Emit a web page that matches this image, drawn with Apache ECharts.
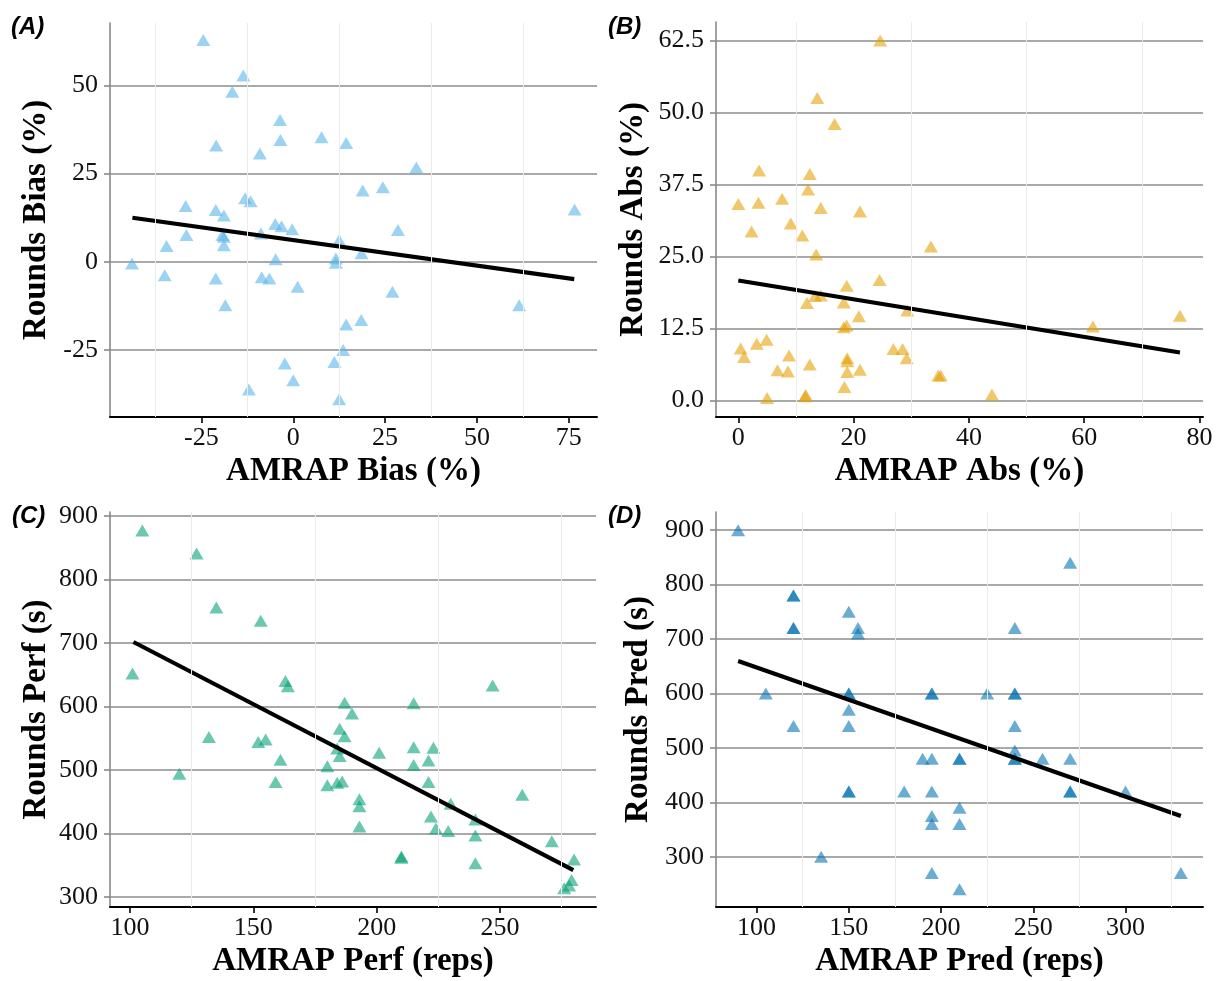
<!DOCTYPE html>
<html><head><meta charset="utf-8">
<script src="https://cdn.jsdelivr.net/npm/echarts@6/dist/echarts.min.js"></script>
<style>html,body{margin:0;padding:0;background:#fff}#c{width:1223px;height:981px}</style>
</head><body><div id="c"></div>
<script>
// ---------- Panel A: AMRAP Bias vs Rounds Bias ----------
const aX = [-24.5,-13.6,-16.6,-3.6,-21,-3.5,-9.1,7.7,14.4,33.5,18.9,24.4,-29.3,-21.1,-18.9,-13.1,-11.6,76.6,-29.1,-34.5,-18.9,-18.9,-19.3,-8.8,-4.9,-3.2,-0.3,12.5,28.5,-43.9,-35,-21.1,-8.6,-6.5,-4.8,1.2,11.6,11.6,18.6,27,-18.5,61.5,14.4,18.5,13.6,11.2,-2.3,0,-12.1,12.5];
const aY = [62.9,52.8,48.2,40.2,33,34.5,30.7,35.3,33.7,26.7,20.2,21.1,15.8,14.7,13.1,18,17.2,14.8,7.6,4.5,7.1,4.7,7.6,8,10.7,10.1,9.2,6.1,9,-0.5,-3.8,-4.7,-4.4,-4.7,0.7,-7.1,0.9,-0.3,2.4,-8.5,-12.3,-12.3,-17.8,-16.5,-25,-28.4,-28.8,-33.6,-36.2,-39];
const aFitX = [-43.8, 76.5];
const aFitY = [12.5, -4.9];
const aXTicks = [-25, 0, 25, 50, 75];
const aXMinor = [-37.5, -12.5, 12.5, 37.5, 62.5];
const aYTicks = [-25, 0, 25, 50];

// ---------- Panel B: AMRAP Abs vs Rounds Abs ----------
const bX = [24.6,13.7,16.7,3.6,12.4,12.1,0,3.5,7.6,14.3,21.1,9.1,2.3,11.1,13.5,33.4,24.5,18.8,11.9,13.3,14.3,18.3,29.3,20.9,76.6,61.5,18.3,18.8,0.4,3.2,4.9,1,8.8,12.4,6.8,8.6,26.9,28.5,29.2,18.9,18.9,18.9,21.1,18.4,34.7,35.1,11.7,11.6,5,44];
const bY = [62.5,52.5,48,39.9,39.3,36.6,34.1,34.3,35,33.4,32.8,30.7,29.3,28.6,25.3,26.7,20.9,19.9,16.9,18.1,18.2,17,15.6,14.6,14.7,12.8,12.7,13,9,9.8,10.5,7.5,7.8,6.2,5.2,5,8.9,8.9,7.3,7.3,6.8,4.9,5.3,2.3,4.3,4.3,0.9,0.7,0.4,1];
const bFitX = [0, 76.6];
const bFitY = [20.8, 8.3];
const bXTicks = [0, 20, 40, 60, 80];
const bXMinor = [10, 30, 50, 70];
const bYTicks = [0, 12.5, 25, 37.5, 50, 62.5];
const bYLabels = ['0.0', '12.5', '25.0', '37.5', '50.0', '62.5'];

// ---------- Panel C: AMRAP Perf vs Rounds Perf ----------
const cX = [105,127,135,153,101,247,163,164,187,215,190,132,152,155,185,187,184,185,161,201,215,223,221,215,180,120,159,180,184,186,221,193,193,259,230,222,224,229,193,240,240,271,210,210,240,280,279,278,276];
const cY = [877,841,756,735,652,633,640,632,606,605,589,552,544,548,565,553,534,522,516,527,536,535,515,508,506,494,481,476,480,482,481,454,443,461,447,427,408,404,411,422,397,388,362,364,353,359,327,318,314];
const cFitX = [101.4, 279.7];
const cFitY = [701.6, 342.5];
const cXTicks = [100, 150, 200, 250];
const cXMinor = [125, 175, 225, 275];
const cYTicks = [300, 400, 500, 600, 700, 800, 900];

// ---------- Panel D: AMRAP Pred vs Rounds Pred ----------
const dX = [90,270,120,120,120,120,150,155,155,240,105,150,150,195,195,225,240,240,150,120,150,240,240,240,240,190,195,210,210,255,270,150,150,180,195,270,270,300,210,195,195,210,135,195,210,330];
const dY = [900,840,780,780,720,720,750,720,710,720,600,600,600,600,600,600,600,600,570,540,540,540,495,480,480,480,480,480,480,480,480,420,420,420,420,420,420,420,390,375,360,360,300,270,240,270];
const dFitX = [90, 330];
const dFitY = [659.5, 374.7];
const dXTicks = [100, 150, 200, 250, 300];
const dXMinor = [125, 175, 225, 275, 325];
const dYTicks = [300, 400, 500, 600, 700, 800, 900];

const zip = (xs, ys) => xs.map((x, i) => [x, ys[i]]);
const SERIF = '"Liberation Serif", "Times New Roman", serif';

const panels = [
  {lab:'(A)', lx:11, ly:27, grid:{left:110, top:23, width:487, height:394}, xr:[-49.9, 82.7], yr:[-44.0, 67.7],
   x:aX, y:aY, fx:aFitX, fy:aFitY, xt:aXTicks, xm:aXMinor, yt:aYTicks, yl:null, color:'#56B4E9',
   xn:'AMRAP Bias (%)', yn:'Rounds Bias (%)', yGap:57},
  {lab:'(B)', lx:608, ly:27, grid:{left:716, top:22, width:487, height:395}, xr:[-3.87, 80.6], yr:[-2.9, 65.7],
   x:bX, y:bY, fx:bFitX, fy:bFitY, xt:bXTicks, xm:bXMinor, yt:bYTicks, yl:bYLabels, color:'#E69F00',
   xn:'AMRAP Abs (%)', yn:'Rounds Abs (%)', yGap:66},
  {lab:'(C)', lx:12, ly:516, grid:{left:110, top:512, width:486, height:395}, xr:[91.9, 288.9], yr:[284.3, 906.3],
   x:cX, y:cY, fx:cFitX, fy:cFitY, xt:cXTicks, xm:cXMinor, yt:cYTicks, yl:null, color:'#009E73',
   xn:'AMRAP Perf (reps)', yn:'Rounds Perf (s)', yGap:57},
  {lab:'(D)', lx:608, ly:516, grid:{left:716, top:512, width:487, height:395}, xr:[78, 342], yr:[207.6, 933.3],
   x:dX, y:dY, fx:dFitX, fy:dFitY, xt:dXTicks, xm:dXMinor, yt:dYTicks, yl:null, color:'#0072B2',
   xn:'AMRAP Pred (reps)', yn:'Rounds Pred (s)', yGap:61}
];

const option = {animation:false, backgroundColor:'#fff', grid:[], xAxis:[], yAxis:[], series:[], graphic:[]};
panels.forEach((p, i) => {
  option.grid.push(p.grid);
  option.xAxis.push({
    gridIndex:i, type:'value', min:p.xr[0], max:p.xr[1],
    axisLine:{show:true, onZero:false, lineStyle:{color:'#000', width:2}},
    axisTick:{show:true, length:6, customValues:p.xt, lineStyle:{color:'#000', width:1.6}},
    axisLabel:{customValues:p.xt, margin:8, fontSize:26, fontFamily:SERIF, color:'#111'},
    splitLine:{show:false},
    name:p.xn, nameLocation:'middle', nameGap:38,
    nameTextStyle:{fontSize:33, fontWeight:'bold', fontFamily:SERIF, color:'#000'}
  });
  const yl = p.yl;
  const yt = p.yt;
  option.yAxis.push({
    gridIndex:i, type:'value', min:p.yr[0], max:p.yr[1],
    axisLine:{show:true, onZero:false, lineStyle:{color:'#8a8a8a', width:1.6}},
    axisTick:{show:true, length:6, customValues:p.yt, lineStyle:{color:'#8a8a8a', width:1.6}},
    axisLabel:{customValues:p.yt, margin:12, fontSize:26, fontFamily:SERIF, color:'#111',
      formatter: v => { if (!yl) return String(v); const k = yt.indexOf(v); return k >= 0 ? yl[k] : String(v); }},
    splitLine:{show:true, lineStyle:{color:'#8c8c8c', width:1.6}},
    name:p.yn, nameLocation:'middle', nameGap:p.yGap,
    nameTextStyle:{fontSize:33, fontWeight:'bold', fontFamily:SERIF, color:'#000'}
  });
  option.series.push({
    type:'line', xAxisIndex:i, yAxisIndex:i, data:[], z:1, silent:true,
    markLine:{silent:true, symbol:['none','none'], label:{show:false}, animation:false,
      lineStyle:{color:'#ebebeb', width:1, type:'solid'},
      emphasis:{disabled:true},
      data:p.xm.map(v => ({xAxis:v}))}
  });
  option.series.push({
    type:'scatter', xAxisIndex:i, yAxisIndex:i, data:zip(p.x, p.y), z:2, silent:true,
    symbol:'triangle', symbolSize:[14, 12],
    itemStyle:{color:p.color, opacity:0.58}
  });
  option.series.push({
    type:'line', xAxisIndex:i, yAxisIndex:i, data:zip(p.fx, p.fy), z:3, silent:true,
    symbol:'none', showSymbol:false, lineStyle:{color:'#000', width:4.2}
  });
  option.graphic.push({
    type:'text', x:p.lx, y:p.ly,
    style:{text:p.lab, font:'italic bold 24px "Liberation Sans", Arial, sans-serif', fill:'#000', verticalAlign:'middle', align:'left'}
  });
});

const chart = echarts.init(document.getElementById('c'), null, {renderer:'canvas'});
chart.setOption(option);
</script>
</body></html>
